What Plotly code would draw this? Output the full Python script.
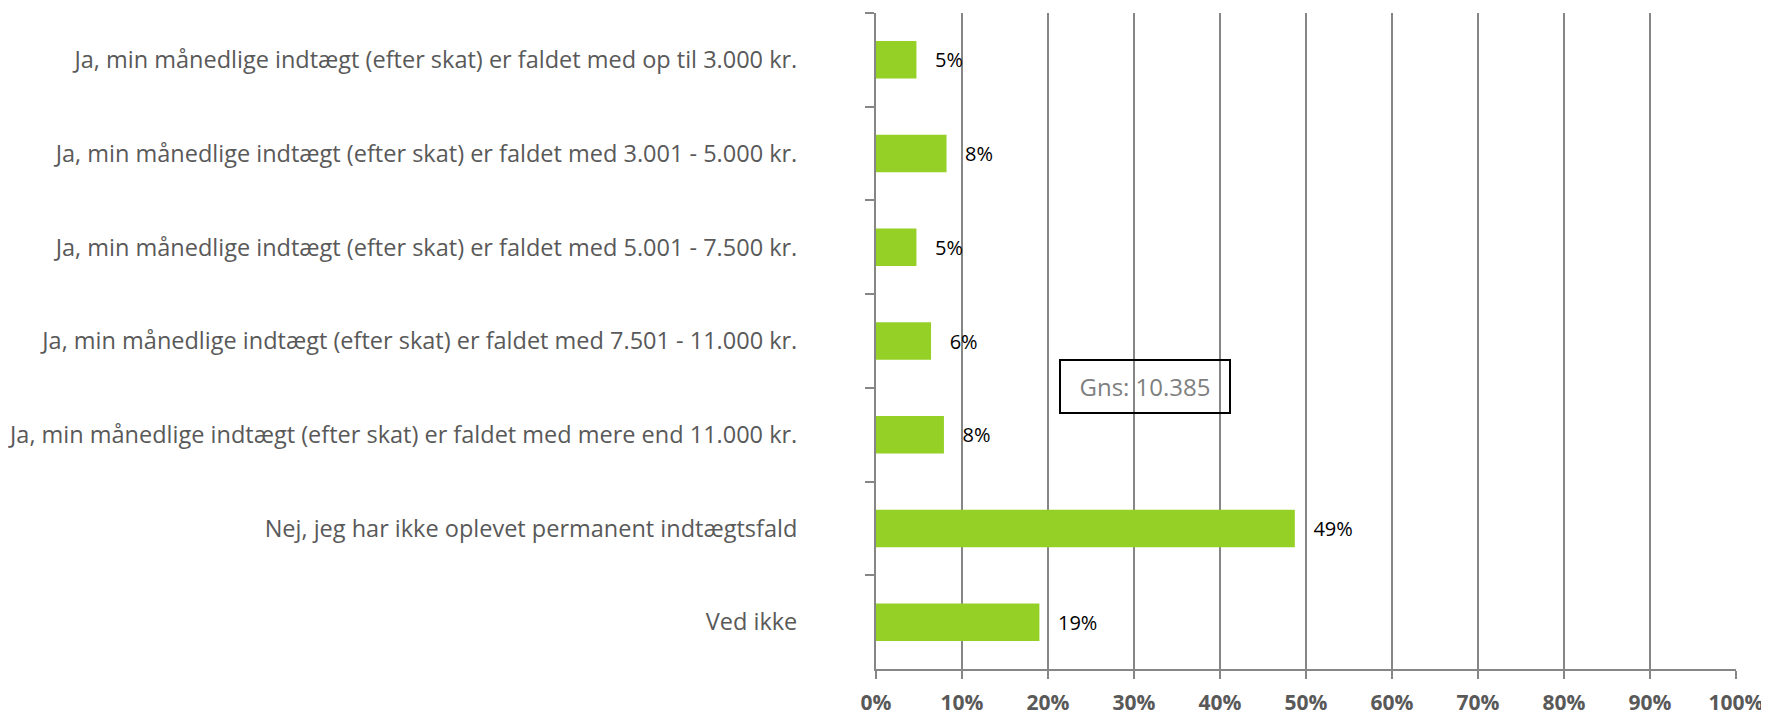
import plotly.graph_objects as go

# Survey answers (Danish), top to bottom
categories = [
    "Ja, min månedlige indtægt (efter skat) er faldet med op til 3.000 kr.",
    "Ja, min månedlige indtægt (efter skat) er faldet med 3.001 - 5.000 kr.",
    "Ja, min månedlige indtægt (efter skat) er faldet med 5.001 - 7.500 kr.",
    "Ja, min månedlige indtægt (efter skat) er faldet med 7.501 - 11.000 kr.",
    "Ja, min månedlige indtægt (efter skat) er faldet med mere end 11.000 kr.",
    "Nej, jeg har ikke oplevet permanent indtægtsfald",
    "Ved ikke",
]
shares = [4.7, 8.2, 4.7, 6.4, 7.9, 48.7, 19.0]
share_labels = ["5%", "8%", "5%", "6%", "8%", "49%", "19%"]
x_ticks = [0, 10, 20, 30, 40, 50, 60, 70, 80, 90, 100]
average_note = "Gns: 10.385"

GREY = "#595959"
LINE = "#868686"

fig = go.Figure(go.Bar(
    y=categories,
    x=shares,
    orientation="h",
    width=0.4,
    marker=dict(color="#94D026", line=dict(width=0)),
    text=["\u00a0\u00a0\u00a0" + s for s in share_labels],
    textposition="outside",
    textfont=dict(family="Open Sans", size=20, color="black"),
    cliponaxis=False,
))

# page body has an 8px margin, so the figure is a bit smaller than the window
fig.update_layout(
    width=1761, height=707,
    margin=dict(l=868, r=33, t=5, b=46),
    plot_bgcolor="white", paper_bgcolor="white",
    showlegend=False,
    font=dict(family="Open Sans", color=GREY),
    xaxis=dict(
        range=[0, 100],
        automargin=False,
        tickvals=x_ticks,
        ticktext=[f"<b>{v}%</b>" for v in x_ticks],
        tickfont=dict(size=21, color=GREY),
        ticklabelstandoff=6,
        showgrid=True, gridcolor=LINE, gridwidth=2,
        showline=True, linecolor=LINE, linewidth=2,
        ticks="outside", ticklen=8, tickcolor=LINE, tickwidth=2,
        zeroline=False,
    ),
    yaxis=dict(
        autorange="reversed",
        automargin=False,
        tickson="boundaries",
        ticks="outside", ticklen=9, tickcolor=LINE, tickwidth=2,
        showline=True, linecolor=LINE, linewidth=2,
        showgrid=False,
        tickfont=dict(size=23.5, color=GREY),
        ticklabelstandoff=72,
    ),
)

fig.add_annotation(
    xref="x", yref="paper",
    x=31.3, y=0.431,
    text=average_note,
    showarrow=False,
    font=dict(family="Open Sans", size=24, color="#7f7f7f"),
    bordercolor="black", borderwidth=2, borderpad=9,
    width=150,
)

fig.write_html("out.html")
